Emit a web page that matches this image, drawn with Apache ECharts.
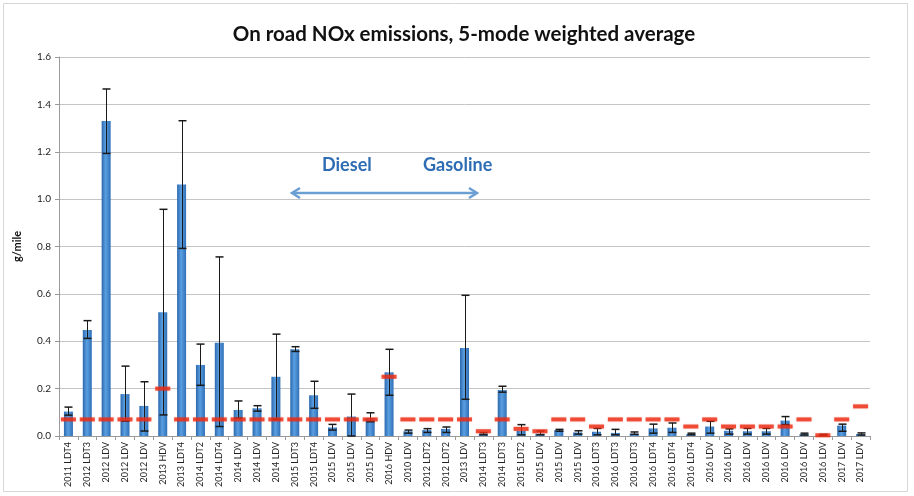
<!DOCTYPE html>
<html>
<head>
<meta charset="utf-8">
<script src="https://cdn.jsdelivr.net/npm/echarts@6/dist/echarts.min.js"></script>
<style>
  html, body { margin: 0; padding: 0; background: #fff; }
  #chart { width: 914px; height: 496px; }
</style>
</head>
<body>
<div id="chart"></div>
<script>
const categories = [
  '2011 LDT4', '2012 LDT3', '2012 LDV', '2012 LDV', '2012 LDV', '2013 HDV', '2013 LDT4', '2014 LDT2',
  '2014 LDT4', '2014 LDV', '2014 LDV', '2014 LDV', '2015 LDT3', '2015 LDT4', '2015 LDV', '2015 LDV',
  '2015 LDV', '2016 HDV', '2010 LDV', '2012 LDT2', '2012 LDT2', '2013 LDV', '2014 LDT3', '2014 LDT3',
  '2015 LDT2', '2015 LDV', '2015 LDV', '2015 LDV', '2016 LDT3', '2016 LDT3', '2016 LDT3', '2016 LDT4',
  '2016 LDT4', '2016 LDT4', '2016 LDV', '2016 LDV', '2016 LDV', '2016 LDV', '2016 LDV', '2016 LDV',
  '2016 LDV', '2017 LDV', '2017 LDV'
]
// measured average (g/mile)
const values = [
  0.103, 0.447, 1.33, 0.177, 0.127, 0.522, 1.062, 0.30,
  0.394, 0.11, 0.117, 0.25, 0.366, 0.172, 0.036, 0.082,
  0.075, 0.269, 0.02, 0.025, 0.03, 0.371, 0.01, 0.194,
  0.022, 0.01, 0.025, 0.015, 0.018, 0.013, 0.01, 0.032,
  0.035, 0.008, 0.04, 0.022, 0.02, 0.02, 0.065, 0.008,
  0.005, 0.044, 0.008
]
const errLow = [
  0.088, 0.412, 1.193, 0.063, 0.021, 0.089, 0.792, 0.214,
  0.04, 0.075, 0.105, 0.07, 0.357, 0.117, 0.025, 0.0,
  0.06, 0.172, 0.012, 0.015, 0.015, 0.155, 0.005, 0.185,
  0.005, 0.005, 0.02, 0.008, 0.005, 0.005, 0.007, 0.012,
  0.015, 0.005, 0.012, 0.008, 0.008, 0.008, 0.048, 0.004,
  0.002, 0.02, 0.004
]
const errHigh = [
  0.122, 0.487, 1.465, 0.295, 0.229, 0.957, 1.331, 0.388,
  0.756, 0.148, 0.128, 0.43, 0.377, 0.231, 0.049, 0.177,
  0.098, 0.366, 0.025, 0.031, 0.038, 0.594, 0.014, 0.21,
  0.048, 0.021, 0.028, 0.022, 0.032, 0.028, 0.017, 0.05,
  0.055, 0.012, 0.062, 0.03, 0.032, 0.032, 0.082, 0.012,
  0.007, 0.05, 0.013
]
// certification standard (red dashes)
const standard = [
  0.07, 0.07, 0.07, 0.07, 0.07, 0.2, 0.07, 0.07,
  0.07, 0.07, 0.07, 0.07, 0.07, 0.07, 0.07, 0.07,
  0.07, 0.25, 0.07, 0.07, 0.07, 0.07, 0.02, 0.07,
  0.03, 0.02, 0.07, 0.07, 0.04, 0.07, 0.07, 0.07,
  0.07, 0.04, 0.07, 0.04, 0.04, 0.04, 0.04, 0.07,
  0.003, 0.07, 0.125
]
const yTicks = [0, 0.2, 0.4, 0.6, 0.8, 1.0, 1.2, 1.4, 1.6]

const FONT = 'Lato'
let chart = echarts.init(document.getElementById('chart'))

let option = {
  animation: false,
  title: {
    text: 'On road NOx emissions, 5-mode weighted average',
    left: 459,
    top: 19,
    textAlign: 'center',
    textStyle: { fontFamily: FONT, fontSize: 20.5, fontWeight: 'bold', color: '#111' }
  },
  grid: { left: 59, right: 44, top: 57, bottom: 60 },
  xAxis: {
    type: 'category',
    data: categories,
    axisLine: { lineStyle: { color: '#9a9a9a' } },
    axisTick: { show: true, length: 4, lineStyle: { color: '#9a9a9a' } },
    axisLabel: {
      interval: 0,
      rotate: 90,
      fontFamily: FONT,
      fontSize: 9,
      color: '#222',
      margin: 6
    }
  },
  yAxis: {
    type: 'value',
    min: 0,
    max: yTicks[yTicks.length - 1],
    interval: 0.2,
    name: 'g/mile',
    nameLocation: 'middle',
    nameGap: 36,
    nameRotate: 90,
    nameTextStyle: { fontFamily: FONT, fontSize: 11, fontWeight: 'bold', color: '#111' },
    axisLine: { show: true, lineStyle: { color: '#9a9a9a' } },
    axisTick: { show: true, length: 4, lineStyle: { color: '#9a9a9a' } },
    axisLabel: {
      fontFamily: FONT,
      fontSize: 10,
      color: '#222',
      margin: 8,
      formatter: v => v.toFixed(1)
    },
    splitLine: { lineStyle: { color: '#c4c4c4' } }
  },
  series: [
    {
      name: 'average',
      type: 'bar',
      barWidth: 9,
      itemStyle: {
        color: new echarts.graphic.LinearGradient(0, 0, 1, 0, [
          { offset: 0, color: '#2c68ad' },
          { offset: 0.45, color: '#5a9fe2' },
          { offset: 1, color: '#2f6fb6' }
        ])
      },
      data: values,
      z: 2
    },
    {
      name: 'range',
      type: 'custom',
      renderItem: function(params, api) {
        let lo = api.coord([api.value(0), api.value(1)])
        let hi = api.coord([api.value(0), api.value(2)])
        let x = Math.round(lo[0]) + 0.5
        let cap = 4
        let st = { stroke: '#1a1a1a', lineWidth: 1 }
        return {
          type: 'group',
          children: [
            { type: 'line', shape: { x1: x, y1: lo[1], x2: x, y2: hi[1] }, style: st },
            { type: 'line', shape: { x1: x - cap, y1: hi[1], x2: x + cap, y2: hi[1] }, style: { stroke: '#1a1a1a', lineWidth: 1.5 } },
            { type: 'line', shape: { x1: x - cap, y1: lo[1], x2: x + cap, y2: lo[1] }, style: { stroke: '#1a1a1a', lineWidth: 1.5 } }
          ]
        }
      },
      data: categories.map((c, i) => [i, errLow[i], errHigh[i]]),
      z: 3
    },
    {
      name: 'standard',
      type: 'scatter',
      symbol: 'rect',
      symbolSize: [15, 4],
      itemStyle: { color: '#ec2a12', shadowColor: 'rgba(236,42,18,0.35)', shadowBlur: 2 },
      data: standard,
      z: 4
    }
  ],
  graphic: [
    {
      type: 'rect',
      shape: { x: 3.5, y: 3.5, width: 904, height: 488 },
      style: { fill: 'none', stroke: '#d6d6d6', lineWidth: 1 },
      silent: true
    },
    {
      type: 'text',
      left: 322,
      top: 156,
      style: {
        text: 'Diesel',
        font: 'bold 18px ' + FONT,
        fill: '#2e6db4',
        shadowColor: 'rgba(0,0,0,0.25)',
        shadowBlur: 2,
        shadowOffsetY: 1
      }
    },
    {
      type: 'text',
      left: 423,
      top: 156,
      style: {
        text: 'Gasoline',
        font: 'bold 18px ' + FONT,
        fill: '#2e6db4',
        shadowColor: 'rgba(0,0,0,0.25)',
        shadowBlur: 2,
        shadowOffsetY: 1
      }
    },
    {
      type: 'group',
      silent: true,
      children: [
        { type: 'line', shape: { x1: 293, y1: 193, x2: 476, y2: 193 }, style: { stroke: '#6b9fd4', lineWidth: 2.5 } },
        { type: 'polyline', shape: { points: [[300, 188], [292, 193], [300, 198]] }, style: { stroke: '#6b9fd4', lineWidth: 2.5, fill: 'none' } },
        { type: 'polyline', shape: { points: [[469, 188], [477, 193], [469, 198]] }, style: { stroke: '#6b9fd4', lineWidth: 2.5, fill: 'none' } }
      ]
    }
  ]
}
chart.setOption(option)
</script>
</body>
</html>
